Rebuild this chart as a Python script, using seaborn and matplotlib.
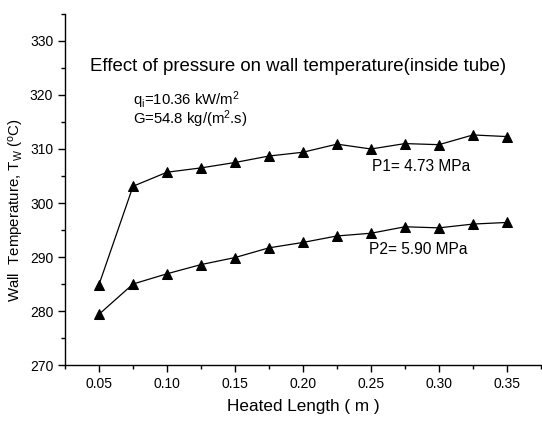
import numpy as np
import pandas as pd

import matplotlib
matplotlib.use('Agg')

import matplotlib.pyplot as plt
from matplotlib.ticker import MultipleLocator, FormatStrFormatter
import seaborn as sns

# values
length = [0.05, 0.075, 0.10, 0.125, 0.15, 0.175, 0.20, 0.225, 0.25, 0.275, 0.30, 0.325, 0.35]
temp_p1 = [284.9, 303.1, 305.7, 306.5, 307.5, 308.7, 309.4, 310.9, 310.0, 311.0, 310.8, 312.6, 312.3]
temp_p2 = [279.4, 285.0, 286.9, 288.6, 289.9, 291.7, 292.7, 293.9, 294.4, 295.6, 295.4, 296.1, 296.4]

df = pd.DataFrame({
    "length": length * 2,
    "temp": temp_p1 + temp_p2,
    "series": ["P1"] * len(length) + ["P2"] * len(length),
})

sns.set_style("ticks")
plt.rcParams['font.family'] = ['Liberation Sans', 'DejaVu Sans']
plt.rcParams['text.color'] = 'black'
plt.rcParams['axes.labelcolor'] = 'black'
plt.rcParams['mathtext.fontset'] = 'custom'
plt.rcParams['mathtext.rm'] = 'Liberation Sans'
plt.rcParams['mathtext.it'] = 'Liberation Sans:italic'

fig = plt.figure(figsize=(5.42, 4.23), dpi=100)
ax = fig.add_axes([0.120, 0.137, 0.878, 0.830])

sns.lineplot(data=df, x="length", y="temp", units="series", estimator=None,
             color="black", linewidth=0.9, marker="^", markersize=6.5,
             markeredgecolor="black", ax=ax)

ax.set_xlim(0.025, 0.375)
ax.set_ylim(270, 335)
ax.xaxis.set_major_locator(MultipleLocator(0.05))
ax.xaxis.set_minor_locator(MultipleLocator(0.025))
ax.xaxis.set_major_formatter(FormatStrFormatter('%.2f'))
ax.yaxis.set_major_locator(MultipleLocator(10))
ax.yaxis.set_minor_locator(MultipleLocator(5))
ax.tick_params(which='major', length=5, width=1, labelsize=10, color='black', labelcolor='black')
ax.tick_params(which='minor', length=3, width=1, color='black')
for s in ['left', 'bottom']:
    ax.spines[s].set_linewidth(1)
    ax.spines[s].set_color('black')
sns.despine(ax=ax)

ax.set_xlabel("Heated Length ( m )", fontsize=12.3)
ax.xaxis.set_label_coords(0.50, -0.098)
ax.set_ylabel(r"Wall  Temperature, T$_\mathrm{W}$ ($^\mathrm{o}$C)", fontsize=10.8)
ax.yaxis.set_label_coords(-0.082, 0.44)

ax.text(0.043, 325.2, "Effect of pressure on wall temperature(inside tube)",
        fontsize=13.4, va='center', ha='left')
ax.text(0.075, 319.1, r"q$_\mathrm{i}$=10.36 kW/m$^2$", fontsize=10.7, va='center', ha='left')
ax.text(0.075, 315.6, r"G=54.8 kg/(m$^2$.s)", fontsize=10.7, va='center', ha='left')
ax.text(0.2506, 306.7, "P1= 4.73 MPa", fontsize=11.2, va='center', ha='left')
ax.text(0.2484, 291.3, "P2= 5.90 MPa", fontsize=11.2, va='center', ha='left')

plt.savefig("out.png", dpi=100)
plt.close()
